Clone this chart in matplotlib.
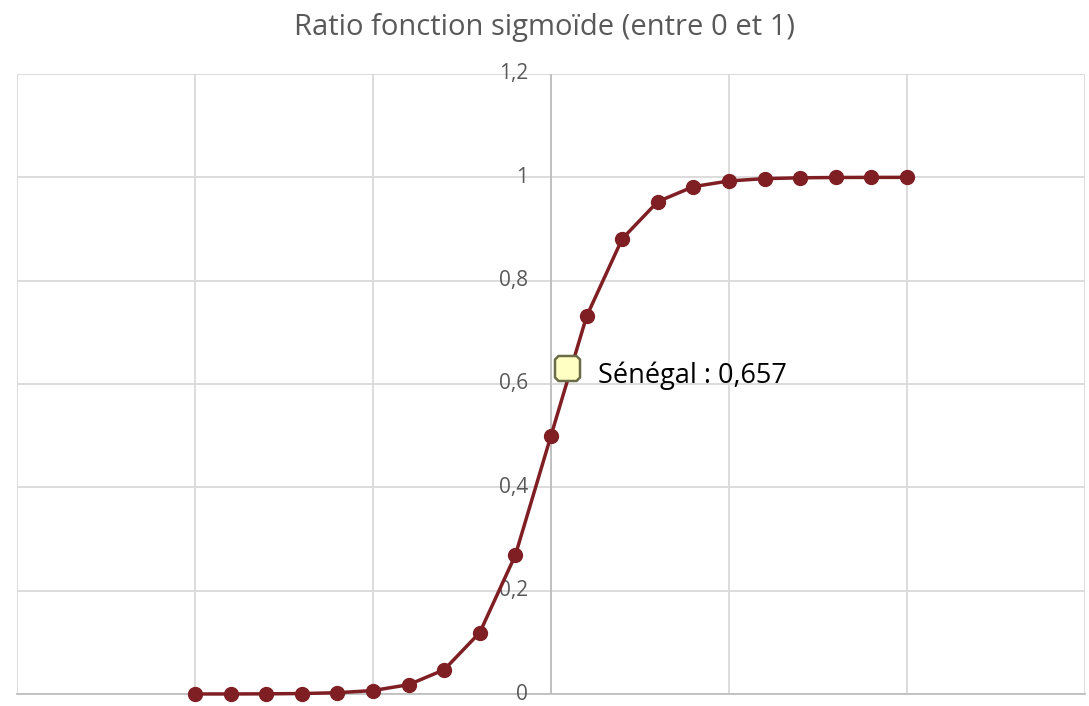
import matplotlib
matplotlib.use("Agg")
import matplotlib.pyplot as plt
from matplotlib.path import Path

x_values = [-10, -9, -8, -7, -6, -5, -4, -3, -2, -1, 0, 1, 2, 3, 4, 5, 6, 7, 8, 9, 10]
y_values = [0.00005, 0.0001, 0.0003, 0.0009, 0.0025, 0.0067, 0.018, 0.047, 0.119, 0.269,
            0.5, 0.731, 0.881, 0.953, 0.982, 0.993, 0.9975, 0.9991, 0.9997, 0.9999, 0.99995]
highlight_x = [0.45]
highlight_y = [0.63]
highlight_label = "Sénégal : 0,657"
title = "Ratio fonction sigmoïde (entre 0 et 1)"
y_ticks = [0, 0.2, 0.4, 0.6, 0.8, 1.0, 1.2]
y_tick_labels = ["0", "0,2", "0,4", "0,6", "0,8", "1", "1,2"]
x_grid = [-15, -10, -5, 0, 5, 10, 15]

plt.rcParams['font.family'] = ['Open Sans', 'DejaVu Sans']

fig = plt.figure(figsize=(10.89, 7.06), dpi=100)
ax = fig.add_axes([17/1089, 12/706, (1085-17)/1089, (694-74)/706])

grid_c = '#D9D9D9'
ax.set_xlim(-15, 15)
ax.set_ylim(0, 1.2)
ax.set_xticks(x_grid)
ax.set_yticks(y_ticks)
ax.set_xticklabels([])
ax.set_yticklabels([])
ax.tick_params(length=0)
ax.grid(True, color=grid_c, linewidth=1.3)
ax.set_axisbelow(True)
for s in ax.spines.values():
    s.set_visible(False)
ax.axvline(0, color='#BFBFBF', linewidth=1.3, zorder=1)
ax.axhline(0, color='#BFBFBF', linewidth=1.3, zorder=1, clip_on=False)

for t, lab in zip(y_ticks, y_tick_labels):
    ax.annotate(lab, xy=(0, t), xycoords='data', xytext=(-23, 0), textcoords='offset pixels',
                ha='right', va='center', fontsize=15, color='#595959')

ax.plot(x_values, y_values, color='#7F1F24', linewidth=2.5, marker='o', markersize=10,
        clip_on=False, zorder=3)

c = 0.28
bevel = Path([(-1 + c, -1), (1 - c, -1), (1, -1 + c), (1, 1 - c), (1 - c, 1), (-1 + c, 1),
              (-1, 1 - c), (-1, -1 + c), (-1 + c, -1)],
             [Path.MOVETO] + [Path.LINETO] * 7 + [Path.CLOSEPOLY])
ax.plot(highlight_x, highlight_y, marker=bevel, markersize=18, markerfacecolor='#FFFFC4',
        markeredgecolor='#6B6B48', markeredgewidth=1.8, linestyle='none', zorder=4, clip_on=False)
ax.annotate(highlight_label, xy=(highlight_x[0], highlight_y[0]), xytext=(31, -7),
            textcoords='offset pixels', ha='left', va='center', fontsize=19.5, color='black')

fig.text(545/1089, 1 - 27/706, title, ha='center', va='center', fontsize=21, color='#595959')

fig.savefig('out.png', dpi=100)
